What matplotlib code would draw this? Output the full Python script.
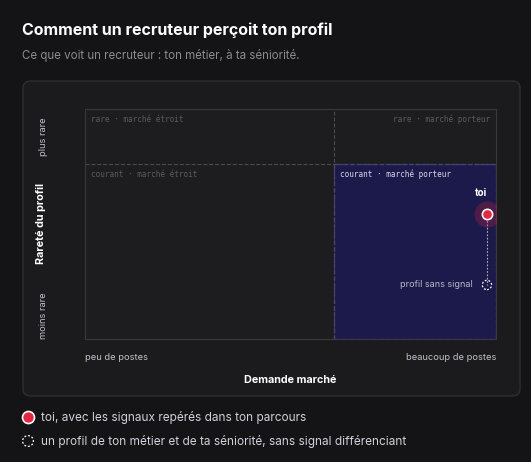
import matplotlib
matplotlib.use("Agg")
import matplotlib.pyplot as plt
from matplotlib.patches import FancyBboxPatch, Rectangle

plt.rcParams['font.family'] = ['Inter', 'DejaVu Sans']

x_split = 0.606
y_split = 0.76
you = (0.978, 0.543)
baseline = (0.978, 0.235)
quadrant_labels = ["rare · marché étroit", "rare · marché porteur",
                   "courant · marché étroit", "courant · marché porteur"]
x_ticks = ["peu de postes", "beaucoup de postes"]
y_ticks = ["moins rare", "plus rare"]

W, H = 531, 462
fig = plt.figure(figsize=(W/100, H/100), dpi=100, facecolor="#141416")

def fx(p): return p / W
def fy(p): return 1 - p / H

fig.text(fx(22), fy(30), "Comment un recruteur perçoit ton profil", color="white",
         fontsize=11.5, fontweight="bold", va="center")
fig.text(fx(22), fy(55), "Ce que voit un recruteur : ton métier, à ta séniorité.", color="#8a8a90",
         fontsize=8.3, va="center")

panel = FancyBboxPatch((fx(23), fy(396)), fx(520-23), fy(81)-fy(396),
                       boxstyle="round,pad=0,rounding_size=0.015", transform=fig.transFigure,
                       facecolor="#1b1b1e", edgecolor="#2e2e33", lw=1, zorder=-5)
fig.patches.append(panel)

ax = fig.add_axes([fx(85), fy(339), fx(496-85), fy(109)-fy(339)])
ax.set_xlim(0, 1); ax.set_ylim(0, 1)
ax.set_facecolor("#1d1d20")
for s in ax.spines.values():
    s.set_color("#38383d")
ax.set_xticks([]); ax.set_yticks([])
ax.add_patch(Rectangle((x_split, 0), 1 - x_split, y_split, facecolor="#1c1a4a",
                       edgecolor="#3a3690", lw=1, ls="--"))
ax.axvline(x_split, color="#4a4a50", ls="--", lw=0.8)
ax.axhline(y_split, color="#4a4a50", ls="--", lw=0.8)
mono = "DejaVu Sans Mono"
ax.text(0.015, 0.975, quadrant_labels[0], color="#5a5a60", fontsize=5.5, family=mono, va="top")
ax.text(0.985, 0.975, quadrant_labels[1], color="#5a5a60", fontsize=5.5, family=mono, va="top", ha="right")
ax.text(0.015, y_split - 0.025, quadrant_labels[2], color="#5a5a60", fontsize=5.5, family=mono, va="top")
ax.text(x_split + 0.015, y_split - 0.025, quadrant_labels[3], color="#d8d8e8", fontsize=5.5,
        family=mono, va="top")

ax.plot([you[0], baseline[0]], [you[1], baseline[1]], ls=(0, (1.5, 1.5)), color="#b0b0c0", lw=0.8)
ax.scatter(*you, s=350, color="#e8253f", alpha=0.25, lw=0, zorder=3)
ax.scatter(*you, s=55, color="#e8253f", edgecolor="white", lw=1.2, zorder=4)
ax.scatter(*baseline, s=45, facecolor="none", edgecolor="white", lw=0.9, ls=(0, (1.5, 1.5)), zorder=4)
ax.text(you[0], you[1] + 0.07, "toi", color="white", fontsize=7, fontweight="bold",
        ha="right", va="bottom")
ax.text(baseline[0] - 0.035, baseline[1], "profil sans signal", color="#b8b8c8", fontsize=6.5,
        ha="right", va="center")

ax.text(0, -0.06, x_ticks[0], color="#c0c0c8", fontsize=6.7, transform=ax.transAxes, va="top")
ax.text(1, -0.06, x_ticks[1], color="#c0c0c8", fontsize=6.7, transform=ax.transAxes, va="top", ha="right")
ax.text(-0.1, 0.1, y_ticks[0], color="#c0c0c8", fontsize=6.7, rotation=90, va="center", ha="center",
        transform=ax.transAxes)
ax.text(-0.1, 0.88, y_ticks[1], color="#c0c0c8", fontsize=6.7, rotation=90, va="center", ha="center",
        transform=ax.transAxes)
fig.text(fx(290), fy(380), "Demande marché", color="white", fontsize=7.8, fontweight="bold",
         ha="center", va="center")
fig.text(fx(41), fy(223), "Rareté du profil", color="white", fontsize=7.8, fontweight="bold",
         ha="center", va="center", rotation=90)

# legend
lax = fig.add_axes([0, 0, 1, 1], facecolor="none")
lax.set_xlim(0, W); lax.set_ylim(H, 0); lax.axis("off")
lax.scatter(28, 417, s=75, color="#e8253f", edgecolor="white", lw=1.2)
lax.scatter(28, 441, s=60, facecolor="none", edgecolor="white", lw=0.9, ls=(0, (1.5, 1.5)))
lax.text(41, 417, "toi, avec les signaux repérés dans ton parcours", color="#d0d0d8",
         fontsize=8.5, va="center")
lax.text(41, 441, "un profil de ton métier et de ta séniorité, sans signal différenciant",
         color="#d0d0d8", fontsize=8.5, va="center")

fig.savefig("out.png", dpi=100, facecolor=fig.get_facecolor())
